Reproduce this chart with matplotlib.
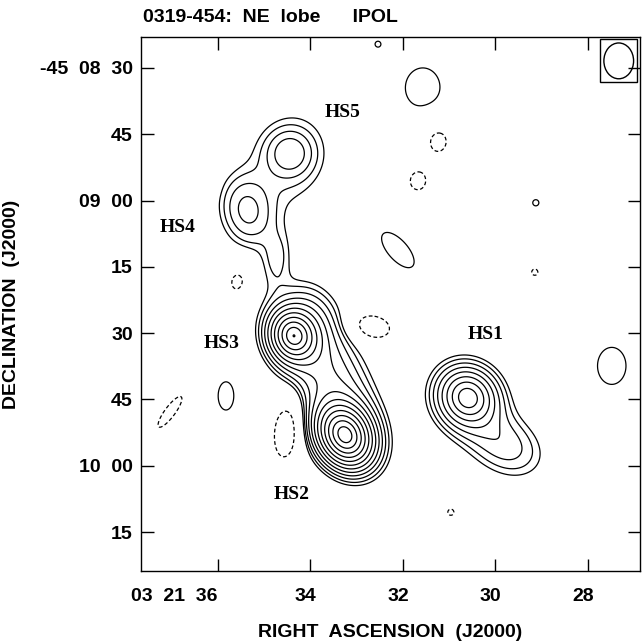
import numpy as np
import matplotlib
matplotlib.use("Agg")
import matplotlib.pyplot as plt
from matplotlib.patches import Ellipse, Rectangle
from matplotlib.transforms import ScaledTranslation

# brightness components
# ra in seconds of 03h21m, dec in arcsec south of -45d08m00s
comp_ra = [33.254, 34.357, 33.686, 33.903, 30.595, 29.795, 34.443, 34.443, 35.373, 34.703, 34.724,
           31.568, 32.108, 27.481, 35.827, 32.540,
           31.243, 31.676, 35.568, 32.670, 34.490, 37.038, 36.324, 29.146, 29.124, 30.962]
comp_dec = [113.0, 90.6, 98.8, 84.8, 104.6, 115.3, 49.2, 50.0, 62.4, 54.2, 73.0,
            34.5, 71.2, 97.4, 104.2, 24.6,
            46.3, 55.6, 78.2, 88.6, 111.5, 107.8, 56.7, 76.2, 60.5, 130.5]
comp_peak = [60.0, 30.0, 4.0, 1.2, 15.5, 2.4, 2.3, 0.9, 2.6, 0.8, 1.25,
             1.35, 1.35, 1.35, 1.35, 1.1,
             -1.35, -1.35, -1.35, -1.8, -1.8, -1.35, -1.1, -1.1, 1.1, -1.1]
comp_major = [4.3, 3.7, 11.3, 5.0, 4.9, 6.5, 3.3, 7.0, 5.2, 13.5, 4.5,
              5.8, 6.4, 5.4, 4.1, 1.2,
              3.6, 2.5, 3.5, 3.8, 6.2, 5.5, 1.6, 1.6, 1.6, 1.6]
comp_minor = [3.4, 3.3, 5.4, 4.0, 4.5, 4.6, 3.3, 6.5, 3.8, 7.5, 2.4,
              5.1, 2.9, 4.2, 2.3, 1.2,
              2.9, 2.2, 2.6, 2.4, 2.8, 1.5, 1.6, 1.6, 1.6, 1.6]
comp_theta = [-60, -70, -60, -60, -45, -30, 90, 90, -75, 60, 85,
              90, -48, 90, 90, 0,
              90, 90, 80, -10, 82, 53, 0, 0, 0, 0]
# profile index: 1.4 for the compact hot spots, 2 (gaussian) otherwise
comp_shape = [1.4, 1.4, 2, 2, 1.4, 2, 2, 2, 2, 2, 2,
              2, 2, 2, 2, 2,
              2, 2, 2, 2, 2, 2, 2, 2, 2, 2]

levels = [-1, 1, 1.41, 2, 2.83, 4, 5.66, 8, 11.3, 16, 22.6, 32, 45.3]

source_labels = ["HS5", "HS4", "HS3", "HS1", "HS2"]
label_ra = [33.297, 36.865, 35.914, 30.205, 34.400]
label_dec = [40.0, 66.2, 92.4, 90.4, 126.6]

beam_ra, beam_dec = 27.33, 28.4
beam_major, beam_minor = 8.1, 6.8  # arcsec

ra_ticks = [36, 34, 32, 30, 28]
ra_labels = ["03  21  36", "34", "32", "30", "28"]
dec_ticks = [30, 45, 60, 75, 90, 105, 120, 135]
dec_labels = ["-45  08  30", "45", "09  00", "15", "30", "45", "10  00", "15"]

ra_lim = (37.665, 26.87)
dec_lim = (143.8, 23.0)

sec2as = 15 * np.cos(np.radians(45.14))

ra = np.linspace(ra_lim[1], ra_lim[0], 800)
dec = np.linspace(dec_lim[1], dec_lim[0], 800)
RA, DEC = np.meshgrid(ra, dec)
F = np.zeros_like(RA)
for r0, d0, p, a, b, t, k in zip(comp_ra, comp_dec, comp_peak, comp_major,
                                  comp_minor, comp_theta, comp_shape):
    u = -(RA - r0) * sec2as
    v = -(DEC - d0)
    th = np.radians(t)
    aa = u * np.cos(th) + v * np.sin(th)
    bb = -u * np.sin(th) + v * np.cos(th)
    r = np.sqrt((aa / a) ** 2 + (bb / b) ** 2)
    if k == 2:
        F += p * np.exp(-r ** 2 / 2)
    else:
        F += p * np.exp(-r ** k)

plt.rcParams['font.family'] = ['Liberation Sans', 'DejaVu Sans']
fig = plt.figure(figsize=(6.42, 6.41), dpi=100)
ax = fig.add_axes([141 / 642, 70 / 641, 499 / 642, 534 / 641])

styles = [(0, (3, 2)) if l < 0 else 'solid' for l in levels]
ax.contour(RA, DEC, F, levels=levels, colors='black', linewidths=0.9,
           linestyles=styles)

for txt, x, y in zip(source_labels, label_ra, label_dec):
    ax.text(x, y, txt, ha='center', va='center', fontsize=14,
            fontweight='bold', family='Liberation Serif')

# beam
bw = beam_minor / sec2as
ax.add_patch(Ellipse((beam_ra, beam_dec), bw, beam_major, fill=False,
                     ec='black', lw=1.0))
ax.add_patch(Rectangle((beam_ra - bw * 0.63, beam_dec - beam_major * 0.6),
                       bw * 1.26, beam_major * 1.2, fill=False,
                       ec='black', lw=1.0))

ax.set_xlim(*ra_lim)
ax.set_ylim(*dec_lim)
ax.set_xticks(ra_ticks)
ax.set_xticklabels(ra_labels)
ax.set_yticks(dec_ticks)
ax.set_yticklabels(dec_labels)
ax.tick_params(direction='in', length=9, width=1, top=True, right=True,
               labelsize=14)
ax.tick_params(axis='x', pad=12)
ax.tick_params(axis='y', pad=6)
for lab in ax.get_xticklabels() + ax.get_yticklabels():
    lab.set_fontweight('bold')
xl = ax.get_xticklabels()
xl[0].set_horizontalalignment('right')
for lab in xl[1:]:
    lab.set_transform(lab.get_transform() +
                      ScaledTranslation(-0.05, 0, fig.dpi_scale_trans))
for s in ax.spines.values():
    s.set_linewidth(1.0)

ax.set_xlabel("RIGHT  ASCENSION  (J2000)", fontsize=14, fontweight='bold',
              labelpad=14)
ax.set_ylabel("DECLINATION  (J2000)", fontsize=14, fontweight='bold',
              labelpad=14)
fig.text(143 / 642, 1 - 18 / 641, "0319-454:  NE  lobe      IPOL",
         fontsize=14, fontweight='bold', ha='left', va='center')

fig.savefig("out.png", dpi=100)
